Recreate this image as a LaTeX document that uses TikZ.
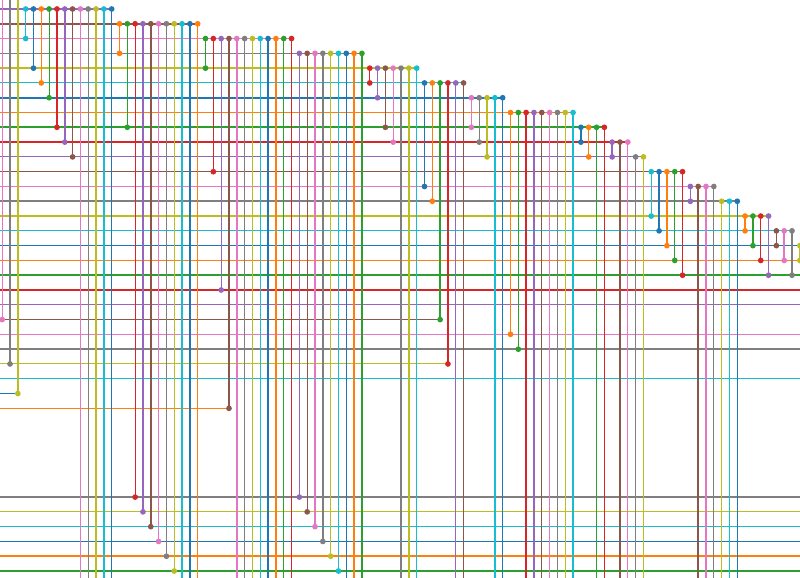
\documentclass[tikz,border=0pt]{standalone}
\definecolor{c0}{HTML}{1F77B4}
\definecolor{c1}{HTML}{FF7F0E}
\definecolor{c2}{HTML}{2CA02C}
\definecolor{c3}{HTML}{D62728}
\definecolor{c4}{HTML}{9467BD}
\definecolor{c5}{HTML}{8C564B}
\definecolor{c6}{HTML}{E377C2}
\definecolor{c7}{HTML}{7F7F7F}
\definecolor{c8}{HTML}{BCBD22}
\definecolor{c9}{HTML}{17BECF}
\begin{document}
\begin{tikzpicture}[x=0.75pt,y=-0.75pt,
  dot/.style={circle,inner sep=0pt,minimum size=4.3pt,draw=none}]
\useasboundingbox (0,0) rectangle (800,578);
% rows: index / last column reached (103 = beyond the right edge) / width
\def\rowlist{0/14/0.8pt,1/25/1.15pt,2/37/0.8pt,3/46/0.8pt,4/53/1.7pt,5/59/0.8pt,
6/64/1.15pt,7/73/0.8pt,8/77/1.7pt,9/80/1.7pt,10/82/0.8pt,11/87/0.8pt,12/91/0.8pt,
13/94/1.7pt,14/98/1.7pt,15/101/0.8pt,16/102/0.8pt,17/103/0.8pt,18/103/1.7pt,
19/103/1.7pt,20/103/0.8pt,21/56/0.8pt,22/103/0.8pt,23/103/1.7pt,24/57/0.8pt,
25/103/0.8pt,26/2/0.8pt,27/29/0.8pt,33/103/1.7pt,34/103/0.8pt,35/103/0.8pt,
36/103/1.15pt,37/103/1.7pt,38/103/1.7pt}
% columns: index / start row (-1 = above the top) / end row (99 = below the bottom) / width
\def\collist{0/-1/21/0.8pt,1/-1/24/1.15pt,2/-1/26/1.7pt,
3/0/2/0.8pt,4/0/4/0.8pt,5/0/5/0.8pt,6/0/6/0.8pt,7/0/8/1.7pt,8/0/9/1.7pt,9/0/10/0.8pt,
10/0/99/0.8pt,11/0/99/0.8pt,12/0/99/1.7pt,13/0/99/1.7pt,14/0/99/0.8pt,
15/1/3/0.8pt,16/1/8/0.8pt,17/1/33/0.8pt,18/1/34/1.7pt,19/1/35/1.7pt,20/1/36/0.8pt,
21/1/37/0.8pt,22/1/38/0.8pt,23/1/99/1.7pt,24/1/99/1.7pt,25/1/99/0.8pt,
26/2/4/0.8pt,27/2/11/0.8pt,28/2/19/0.8pt,29/2/27/1.7pt,30/2/99/1.7pt,31/2/99/0.8pt,
32/2/99/0.8pt,33/2/99/0.8pt,34/2/99/1.7pt,35/2/99/1.7pt,36/2/99/0.8pt,37/2/99/0.8pt,
38/3/33/0.8pt,39/3/34/0.8pt,40/3/35/1.7pt,41/3/36/1.7pt,42/3/37/0.8pt,43/3/38/0.8pt,
44/3/99/0.8pt,45/3/99/1.7pt,46/3/99/1.7pt,
47/4/5/0.8pt,48/4/6/0.8pt,49/4/8/0.8pt,50/4/9/0.8pt,51/4/99/1.7pt,52/4/99/1.7pt,53/4/99/0.8pt,
54/5/12/0.8pt,55/5/13/0.8pt,56/5/21/1.7pt,57/5/24/1.7pt,58/5/99/0.8pt,59/5/99/0.8pt,
60/6/8/0.8pt,61/6/9/0.8pt,62/6/10/1.7pt,63/6/99/1.7pt,64/6/99/0.8pt,
65/7/22/0.8pt,66/7/23/0.8pt,67/7/99/1.7pt,68/7/99/1.7pt,69/7/99/0.8pt,70/7/99/0.8pt,
71/7/99/0.8pt,72/7/99/0.8pt,73/7/99/1.7pt,
74/8/9/1.7pt,75/8/10/0.8pt,76/8/99/0.8pt,77/8/99/0.8pt,
78/9/10/1.7pt,79/9/99/1.7pt,80/9/99/0.8pt,
81/10/99/0.8pt,82/10/99/0.8pt,
83/11/14/0.8pt,84/11/15/1.7pt,85/11/16/1.7pt,86/11/17/0.8pt,87/11/18/0.8pt,
88/12/13/0.8pt,89/12/99/1.7pt,90/12/99/1.7pt,91/12/99/0.8pt,
92/13/99/0.8pt,93/13/99/0.8pt,94/13/99/0.8pt,
95/14/15/1.7pt,96/14/16/1.7pt,97/14/17/0.8pt,98/14/18/0.8pt,
99/15/16/0.8pt,100/15/17/1.7pt,101/15/18/1.7pt,
102/16/17/0.8pt}
% horizontal lines
\foreach \k/\e/\w in \rowlist {
  \pgfmathsetmacro\yy{9+14.79*\k}
  \pgfmathsetmacro\xe{min(800,2.2+7.82*\e)}
  \pgfmathtruncatemacro\ci{mod(\k+4,10)}
  \coordinate (rL\k) at (0,\yy);
  \coordinate (rR\k) at (\xe,\yy);
  \draw[line width=\w, draw=c\ci] (rL\k) -- (rR\k);
}
% vertical lines
\foreach \j/\a/\b/\w in \collist {
  \pgfmathsetmacro\xx{2.2+7.82*\j}
  \pgfmathsetmacro\ya{\a<0 ? 0 : 9+14.79*\a}
  \pgfmathsetmacro\yb{\b>90 ? 578 : 9+14.79*\b}
  \pgfmathtruncatemacro\ci{mod(\j+6,10)}
  \coordinate (cT\j) at (\xx,\ya);
  \coordinate (cB\j) at (\xx,\yb);
  \draw[line width=\w, draw=c\ci] (cT\j) -- (cB\j);
}
% dots
\foreach \j/\a/\b/\w in \collist {
  \pgfmathtruncatemacro\ci{mod(\j+6,10)}
  \ifnum\a>-1 \node[dot,fill=c\ci] (dT\j) at (cT\j) {};\fi
  \ifnum\b<90 \node[dot,fill=c\ci] (dB\j) at (cB\j) {};\fi
}
\end{tikzpicture}
\end{document}
